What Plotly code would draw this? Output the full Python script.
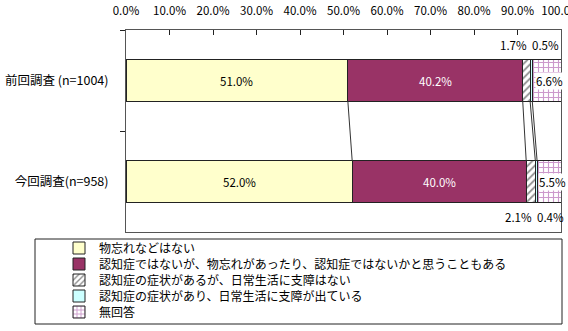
import plotly.graph_objects as go

categories = ["前回調査 (n=1004)", "今回調査(n=958)"]
series_names = [
    "物忘れなどはない",
    "認知症ではないが、物忘れがあったり、認知症ではないかと思うこともある",
    "認知症の症状があるが、日常生活に支障はない",
    "認知症の症状があり、日常生活に支障が出ている",
    "無回答",
]
values_prev = [51.0, 40.2, 1.7, 0.5, 6.6]
values_curr = [52.0, 40.0, 2.1, 0.4, 5.5]
tick_vals = [0, 10, 20, 30, 40, 50, 60, 70, 80, 90, 100]
tick_text = ["0.0%", "10.0%", "20.0%", "30.0%", "40.0%", "50.0%", "60.0%", "70.0%", "80.0%", "90.0%", "100.0%"]

colors = ["#FFFFCC", "#993366", "#FFFFFF", "#CCFFFF", "#FFFFFF"]
patterns = [
    dict(shape=""),
    dict(shape=""),
    dict(shape="/", fgcolor="#222222", bgcolor="#FFFFFF", size=5, solidity=0.35),
    dict(shape=""),
    dict(shape="+", fgcolor="#993399", bgcolor="#FFFFFF", size=5, solidity=0.4),
]
BAR_W = 0.41
JP = "Noto Sans CJK JP"

# pixel layout of the figure
W, H = 568, 331
PL, PR, PT, PB = 126, 561, 30, 232
LEG_ROWS = [248, 264, 280, 296, 312]

def py(y):  # pixel y -> paper y
    return (PB - y) / (PB - PT)

def px(x):  # pixel x -> paper x
    return (x - PL) / (PR - PL)

fig = go.Figure()
legend_keys = ["legend", "legend2", "legend3", "legend4", "legend5"]
for i, name in enumerate(series_names):
    fig.add_trace(go.Bar(
        y=categories, x=[values_prev[i], values_curr[i]], name=name,
        orientation="h", width=BAR_W, legend=legend_keys[i],
        marker=dict(color=colors[i], line=dict(color="#222222", width=1), pattern=patterns[i]),
        hoverinfo="skip",
    ))

annotations = []
cum_prev = [sum(values_prev[:k]) for k in range(len(values_prev) + 1)]
cum_curr = [sum(values_curr[:k]) for k in range(len(values_curr) + 1)]
LBL = 11.5

for ci, (vals, cum) in enumerate([(values_prev, cum_prev), (values_curr, cum_curr)]):
    for k in range(2):
        annotations.append(dict(
            x=(cum[k] + cum[k + 1]) / 2, y=ci, xref="x", yref="y",
            text=f"{vals[k]:.1f}%", showarrow=False,
            font=dict(family=JP, size=LBL, color="#000000" if k == 0 else "#FFFFFF"),
        ))
    annotations.append(dict(
        x=(cum[4] + cum[5]) / 2, y=ci, xref="x", yref="y", xshift=3,
        text=f"{vals[4]:.1f}%", showarrow=False, bgcolor="#FFFFFF", borderpad=0,
        font=dict(family=JP, size=LBL, color="#000000"),
    ))

small_y = [-0.5 + 0.15, 1.5 - 0.15]
for ci, (vals, cum) in enumerate([(values_prev, cum_prev), (values_curr, cum_curr)]):
    annotations.append(dict(
        x=cum[3], y=small_y[ci], xref="x", yref="y", xanchor="right", xshift=-1,
        text=f"{vals[2]:.1f}%", showarrow=False,
        font=dict(family=JP, size=LBL, color="#000000"),
    ))
    annotations.append(dict(
        x=cum[3], y=small_y[ci], xref="x", yref="y", xanchor="left", xshift=0,
        text=f"{vals[3]:.1f}%", showarrow=False,
        font=dict(family=JP, size=LBL, color="#000000"),
    ))

shapes = []
for k in range(1, 5):
    shapes.append(dict(
        type="line", xref="x", yref="y",
        x0=cum_prev[k], y0=0 + BAR_W / 2, x1=cum_curr[k], y1=1 - BAR_W / 2,
        line=dict(color="#333333", width=1),
    ))
shapes.append(dict(
    type="rect", xref="paper", yref="paper",
    x0=px(35), x1=px(562), y0=py(324), y1=py(239),
    line=dict(color="#222222", width=1), fillcolor="rgba(0,0,0,0)",
))

legends = {}
for i, key in enumerate(legend_keys):
    legends[key] = dict(
        x=px(59), y=py(LEG_ROWS[i]), xanchor="left", yanchor="middle",
        font=dict(family=JP, size=12, color="#000000"), bgcolor="rgba(0,0,0,0)",
        itemclick=False, itemdoubleclick=False, borderwidth=0,
    )

fig.update_layout(
    width=W, height=H,
    margin=dict(l=PL, r=W - PR, t=PT, b=H - PB, autoexpand=False),
    barmode="stack",
    plot_bgcolor="#FFFFFF", paper_bgcolor="#FFFFFF",
    font=dict(family=JP, size=11, color="#000000"),
    xaxis=dict(
        side="top", range=[0, 100], tickvals=tick_vals, ticktext=tick_text,
        ticks="inside", ticklen=5, tickcolor="#222222",
        showline=True, linecolor="#555555", linewidth=1, mirror=True,
        showgrid=False, zeroline=False, fixedrange=True,
        tickfont=dict(family=JP, size=11.5), ticklabelstandoff=9,
        ticklabeloverflow="allow",
    ),
    yaxis=dict(
        autorange=False, range=[1.5, -0.5], categoryorder="array", categoryarray=categories,
        ticks="outside", tickson="boundaries", ticklen=5, tickcolor="#222222",
        showline=True, linecolor="#555555", linewidth=1, mirror=True,
        showgrid=False, zeroline=False, fixedrange=True,
        tickfont=dict(family=JP, size=12.5), ticklabelstandoff=14,
    ),
    showlegend=True,
    annotations=annotations,
    shapes=shapes,
    **legends,
)

fig.write_html("out.html")
